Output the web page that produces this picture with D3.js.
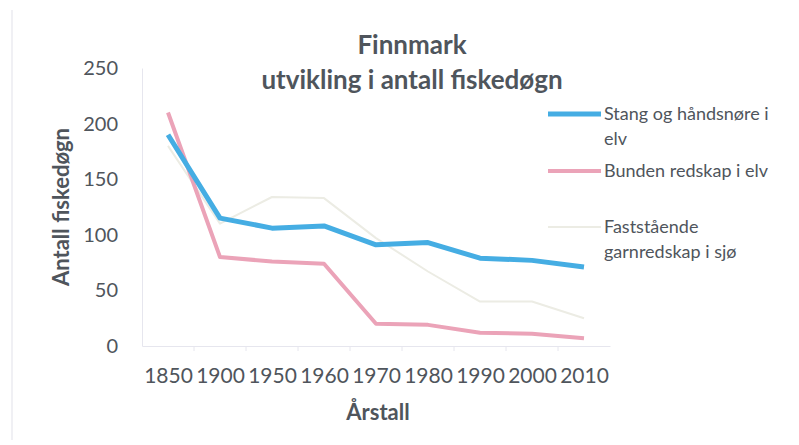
<!DOCTYPE html>
<meta charset="utf-8">
<script src="https://d3js.org/d3.v7.min.js"></script>
<style>
  body { margin: 0; background: #fff; }
  text { font-family: Lato, "Liberation Sans", sans-serif; fill: #4f555c; }
</style>
<div id="my_viz"></div>
<script>

// data
var years = ["1850", "1900", "1950", "1960", "1970", "1980", "1990", "2000", "2010"];
var stang = [190, 115, 106, 108, 91, 93, 79, 77, 71];
var bunden = [210, 80, 76, 74, 20, 19, 12, 11, 7];
var faststaaende = [180, 110, 134, 133, 97, 67, 40, 40, 25];
var yTicks = [0, 50, 100, 150, 200, 250];

var series = [
  {name: ["Stang og håndsnøre i", "elv"], values: stang, color: "#45ade3", width: 5, ly: 114},
  {name: ["Bunden redskap i elv"], values: bunden, color: "#eba3b8", width: 4, ly: 171},
  {name: ["Faststående", "garnredskap i sjø"], values: faststaaende, color: "#ecece4", width: 2, ly: 227}
];

var W = 799, H = 445;
var plotLeft = 142, plotRight = 610, plotTop = 68, plotBottom = 346;

var svg = d3.select("#my_viz")
  .append("svg")
    .attr("width", W)
    .attr("height", H);

// faint frame edge like the scan
svg.append("line")
  .attr("x1", 12).attr("x2", 12).attr("y1", 10).attr("y2", 440)
  .style("stroke", "#f0f0f4").style("stroke-width", 2);

var x = d3.scalePoint()
  .domain(years)
  .range([plotLeft, plotRight])
  .padding(0.5);

var y = d3.scaleLinear()
  .domain([0, 250])
  .range([plotBottom, plotTop]);

// Y axis
var yAxis = svg.append("g")
  .attr("transform", "translate(" + plotLeft + ",0)")
  .call(d3.axisLeft(y).tickValues(yTicks).tickSize(0).tickPadding(24));
yAxis.select(".domain").style("stroke", "#e6e6ee");
yAxis.selectAll("text").style("font-size", "20px").attr("font-family", null);

// X axis
var xAxis = svg.append("g")
  .attr("transform", "translate(0," + plotBottom + ")")
  .call(d3.axisBottom(x).tickSize(0).tickPadding(22));
xAxis.select(".domain").style("stroke", "#e6e6ee");
xAxis.selectAll("text").style("font-size", "21px").attr("font-family", null);

// small ticks between categories
var step = x.step();
svg.append("g")
  .selectAll("line")
  .data(years.slice(1))
  .enter()
  .append("line")
    .attr("x1", function(d) { return x(d) - step / 2; })
    .attr("x2", function(d) { return x(d) - step / 2; })
    .attr("y1", plotBottom)
    .attr("y2", plotBottom + 5)
    .style("stroke", "#e6e6ee");

// lines
var line = d3.line()
  .x(function(d, i) { return x(years[i]); })
  .y(function(d) { return y(d); });

// draw grey first so it sits beneath
series.slice().reverse().forEach(function(s) {
  svg.append("path")
    .datum(s.values)
    .attr("d", line)
    .style("fill", "none")
    .style("stroke", s.color)
    .style("stroke-width", s.width)
    .style("stroke-linejoin", "round");
});

// title
svg.append("text")
  .attr("x", 412).attr("y", 54)
  .attr("text-anchor", "middle")
  .style("font-size", "26px").style("font-weight", "bold")
  .text("Finnmark");
svg.append("text")
  .attr("x", 412).attr("y", 89)
  .attr("text-anchor", "middle")
  .style("font-size", "26px").style("font-weight", "bold")
  .text("utvikling i antall fiskedøgn");

// axis titles
svg.append("text")
  .attr("x", 378).attr("y", 420)
  .attr("text-anchor", "middle")
  .style("font-size", "22px").style("font-weight", "bold")
  .text("Årstall");
svg.append("text")
  .attr("transform", "translate(69,207) rotate(-90)")
  .attr("text-anchor", "middle")
  .style("font-size", "22px").style("font-weight", "bold")
  .text("Antall fiskedøgn");

// legend
var lg = svg.append("g");
series.forEach(function(s) {
  lg.append("line")
    .attr("x1", 548).attr("x2", 601)
    .attr("y1", s.ly).attr("y2", s.ly)
    .style("stroke", s.color)
    .style("stroke-width", s.width);
  s.name.forEach(function(t, j) {
    lg.append("text")
      .attr("x", 604)
      .attr("y", s.ly + 6 + j * 25)
      .style("font-size", "18px")
      .text(t);
  });
});

</script>
